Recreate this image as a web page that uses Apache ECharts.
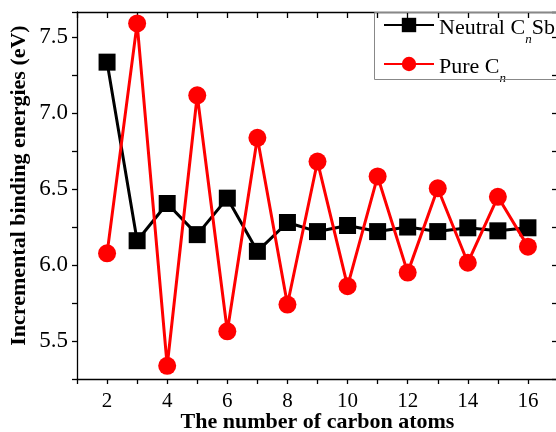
<!DOCTYPE html>
<html>
<head>
<meta charset="utf-8">
<script src="https://cdn.jsdelivr.net/npm/echarts@6/dist/echarts.min.js"></script>
<style>
html,body{margin:0;padding:0;background:#fff;}
#chart{width:556px;height:432px;}
</style>
</head>
<body>
<div id="chart"></div>
<script>
var carbonAtoms = [2, 3, 4, 5, 6, 7, 8, 9, 10, 11, 12, 13, 14, 15, 16];
var neutralCnSb = [7.335, 6.16, 6.405, 6.20, 6.44, 6.09, 6.28, 6.22, 6.26, 6.22, 6.25, 6.22, 6.245, 6.225, 6.245];
var pureCn = [6.077, 7.59, 5.337, 7.117, 5.564, 6.837, 5.74, 6.681, 5.861, 6.583, 5.95, 6.505, 6.015, 6.449, 6.121];
var seriesNames = ['Neutral CnSb', 'Pure Cn'];
var xTitle = 'The number of carbon atoms';
var yTitle = 'Incremental binding energies (eV)';

function pairs(xs, ys) { return xs.map(function (x, i) { return [x, ys[i]]; }); }

var font = 'Liberation Serif';
var chart = echarts.init(document.getElementById('chart'), null, {renderer: 'canvas'});
var xCommon = {type: 'value', min: 1, max: 17, interval: 1};
var yCommon = {type: 'value', min: 5.25, max: 7.665, interval: 0.25};
chart.setOption({
  animation: false,
  grid: {left: 77, top: 12, width: 481, height: 367, containLabel: false, outerBoundsMode: 'none'},
  legend: {
    orient: 'vertical', left: 383, top: 14, itemWidth: 50, itemHeight: 18, itemGap: 7,
    padding: 0,
    data: seriesNames,
    formatter: function (name) {
      return name === seriesNames[0] ? '{m|Neutral C}{sub|n}{m|Sb}' : '{m|Pure C}{sub|n}';
    },
    textStyle: {
      fontFamily: font, fontSize: 22, color: '#000',
      rich: {
        m: {fontFamily: font, fontSize: 22, lineHeight: 22, color: '#000', verticalAlign: 'top', padding: [3, 0, 0, 0]},
        sub: {fontFamily: font, fontSize: 13, lineHeight: 13, fontStyle: 'italic', color: '#000', verticalAlign: 'top', padding: [19, 0, 0, 0]}
      }
    }
  },
  graphic: [{type: 'rect', shape: {x: 374.5, y: 12.5, width: 200, height: 67}, style: {fill: 'none', stroke: '#888', lineWidth: 1}, z: 10}],
  xAxis: [
    Object.assign({}, xCommon, {
      position: 'bottom',
      name: xTitle, nameLocation: 'middle', nameGap: 32, nameMoveOverlap: false,
      nameTextStyle: {fontFamily: font, fontSize: 22, fontWeight: 'bold', color: '#000'},
      axisLine: {lineStyle: {color: '#000', width: 1.3}},
      axisTick: {inside: false, length: 5, lineStyle: {color: '#000', width: 1.3}},
      axisLabel: {fontFamily: font, fontSize: 21, color: '#000', margin: 12,
        formatter: function (v) { return (v % 2 === 0 && v >= 2 && v <= 16) ? String(v) : ''; }},
      splitLine: {show: false}
    }),
    Object.assign({}, xCommon, {
      position: 'top',
      axisLine: {lineStyle: {color: '#000', width: 1.3}},
      axisTick: {inside: true, length: 6, lineStyle: {color: '#000', width: 1.3}},
      axisLabel: {show: false}, splitLine: {show: false}
    })
  ],
  yAxis: [
    Object.assign({}, yCommon, {
      position: 'left',
      name: yTitle, nameLocation: 'middle', nameGap: 47, nameRotate: 90, nameMoveOverlap: false,
      nameTextStyle: {fontFamily: font, fontSize: 22, fontWeight: 'bold', color: '#000', padding: [0, 0, 0, 20]},
      axisLine: {lineStyle: {color: '#000', width: 1.3}},
      axisTick: {inside: false, length: 5, lineStyle: {color: '#000', width: 1.3}},
      axisLabel: {fontFamily: font, fontSize: 23, color: '#000', margin: 9,
        formatter: function (v) { var t = Math.round(v * 100); return (t % 50 === 0) ? v.toFixed(1) : ''; }},
      splitLine: {show: false}
    }),
    Object.assign({}, yCommon, {
      position: 'right',
      axisLine: {lineStyle: {color: '#000', width: 1.3}},
      axisTick: {inside: true, length: 6, lineStyle: {color: '#000', width: 1.3}},
      axisLabel: {show: false}, splitLine: {show: false}
    })
  ],
  series: [
    {
      name: seriesNames[0], type: 'line', xAxisIndex: 0, yAxisIndex: 0,
      data: pairs(carbonAtoms, neutralCnSb),
      symbol: 'rect', symbolSize: 17,
      lineStyle: {color: '#000', width: 3},
      itemStyle: {color: '#000'}, z: 2
    },
    {
      name: seriesNames[1], type: 'line', xAxisIndex: 0, yAxisIndex: 0,
      data: pairs(carbonAtoms, pureCn),
      symbol: 'circle', symbolSize: 18,
      lineStyle: {color: '#ff0000', width: 3},
      itemStyle: {color: '#ff0000'}, z: 3
    }
  ]
});
</script>
</body>
</html>
